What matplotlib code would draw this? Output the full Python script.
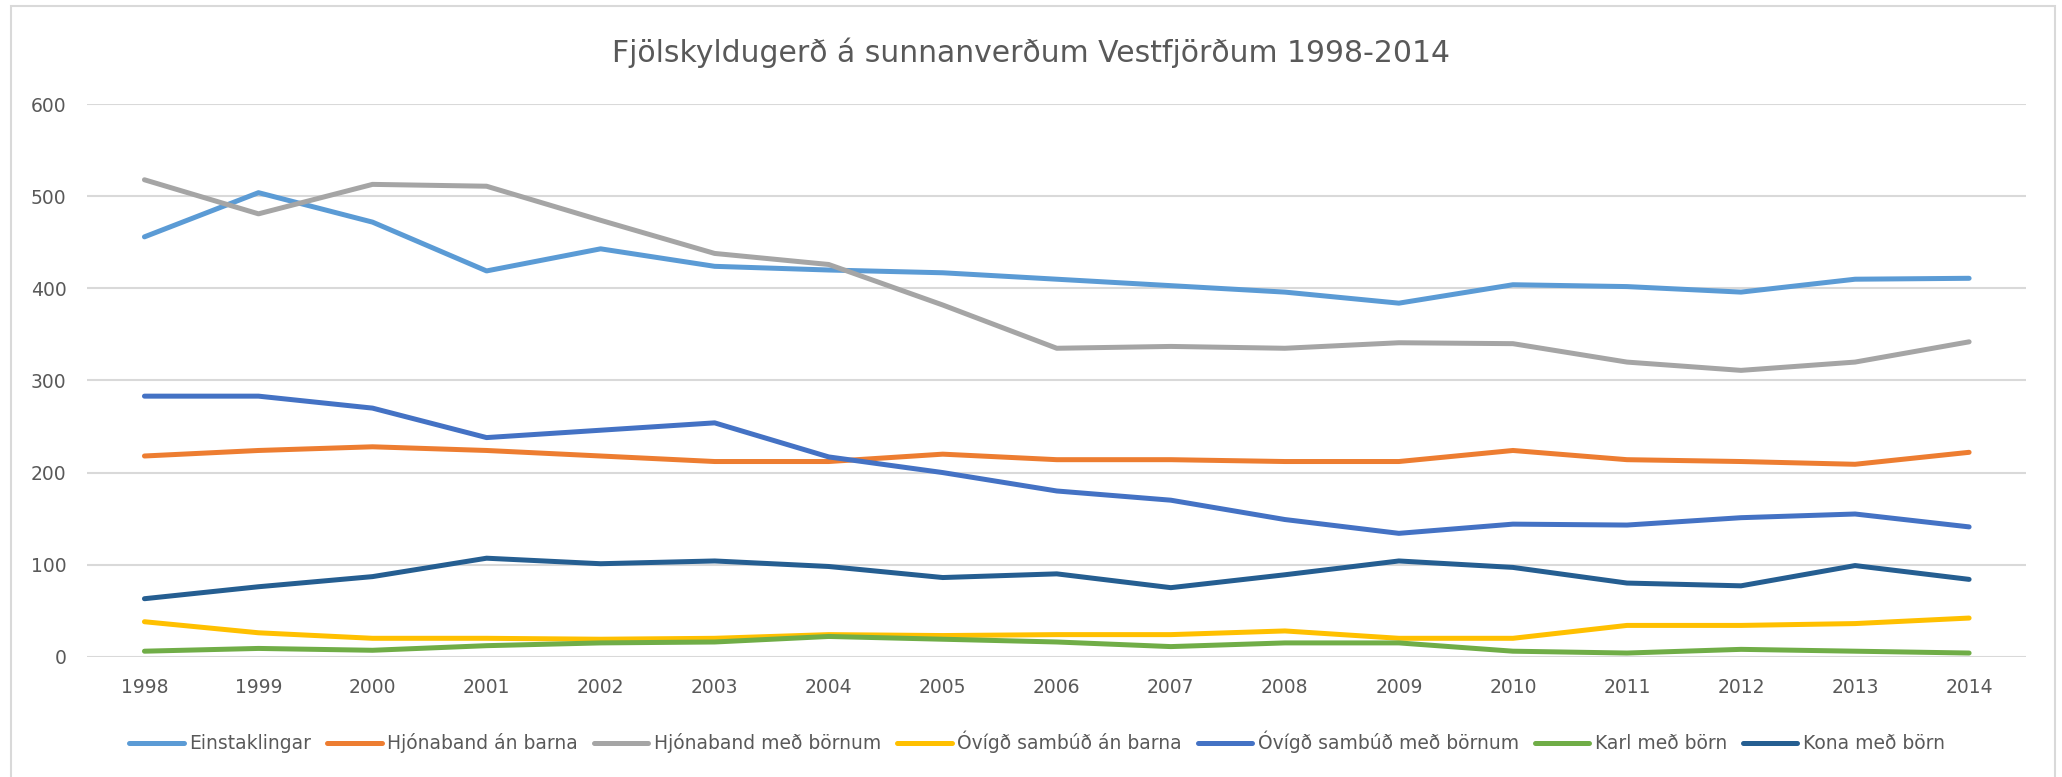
import numpy as np
import matplotlib
matplotlib.use("Agg")
import matplotlib.pyplot as plt
from matplotlib.patches import Rectangle

# --- DATA ---
years = [str(y) for y in range(1998, 2015)]

einstaklingar = [456, 504, 472, 419, 443, 424, 420, 417, 410, 403, 396, 384, 404, 402, 396, 410, 411]
hjon_an_barna = [218, 224, 228, 224, 218, 212, 212, 220, 214, 214, 212, 212, 224, 214, 212, 209, 222]
hjon_med_bornum = [518, 481, 513, 511, 474, 438, 426, 382, 335, 337, 335, 341, 340, 320, 311, 320, 342]
ovigd_an_barna = [38, 26, 20, 20, 19, 20, 24, 23, 24, 24, 28, 20, 20, 34, 34, 36, 42]
ovigd_med_bornum = [283, 283, 270, 238, 246, 254, 217, 200, 180, 170, 149, 134, 144, 143, 151, 155, 141]
karl_med_born = [6, 9, 7, 12, 15, 16, 22, 19, 16, 11, 15, 15, 6, 4, 8, 6, 4]
kona_med_born = [63, 76, 87, 107, 101, 104, 98, 86, 90, 75, 89, 104, 97, 80, 77, 99, 84]

series_names = ["Einstaklingar", "Hjónaband án barna", "Hjónaband með börnum",
                "Óvígð sambúð án barna", "Óvígð sambúð með börnum",
                "Karl með börn", "Kona með börn"]
series_values = [einstaklingar, hjon_an_barna, hjon_med_bornum, ovigd_an_barna,
                 ovigd_med_bornum, karl_med_born, kona_med_born]
colors = ["#5B9BD5", "#ED7D31", "#A5A5A5", "#FFC000", "#4472C4", "#70AD47", "#255E91"]

TEXT = "#595959"
GRID = "#D9D9D9"

fig = plt.figure(figsize=(20.62, 7.77), dpi=100)
ax = fig.add_axes([0.0424, 0.1548, 0.9402, 0.711])

x = np.arange(len(years))
for name, vals, c in zip(series_names, series_values, colors):
    ax.plot(x, vals, color=c, linewidth=3.6, label=name, solid_capstyle="round",
            solid_joinstyle="round")

ax.set_xlim(-0.5, len(years) - 0.5)
ax.set_ylim(0, 600)
ax.set_yticks(range(0, 601, 100))
ax.set_xticks(x)
ax.set_xticklabels(years)
ax.grid(axis="y", color=GRID, linewidth=1.5)
ax.set_axisbelow(True)
for s in ax.spines.values():
    s.set_visible(False)
ax.tick_params(length=0, labelsize=13.5, colors=TEXT)
ax.tick_params(axis="y", pad=15)
ax.tick_params(axis="x", pad=15)

fig.text(0.5, 0.932, "Fjölskyldugerð á sunnanverðum Vestfjörðum 1998-2014",
         ha="center", va="center", fontsize=21.5, color=TEXT)

leg = fig.legend(loc="center", bbox_to_anchor=(0.503, 0.045), ncol=7, frameon=False,
                 fontsize=13.5, handlelength=2.9, handletextpad=0.3, columnspacing=0.85)
for t in leg.get_texts():
    t.set_color(TEXT)

fig.patches.append(Rectangle((11 / 2062, -0.05), 2044 / 2062, 1.05 - 6 / 777,
                             transform=fig.transFigure, fill=False,
                             edgecolor=GRID, linewidth=1.5))

fig.savefig("out.png", dpi=100)
